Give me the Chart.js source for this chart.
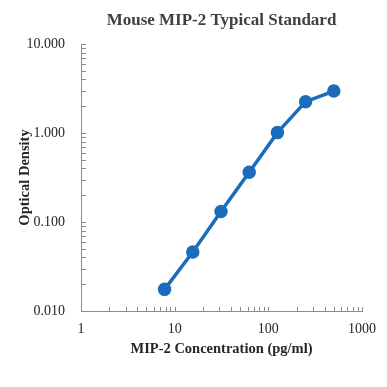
<!DOCTYPE html>
<html>
<head>
<meta charset="utf-8">
<script src="https://cdn.jsdelivr.net/npm/chart.js@4.4.1/dist/chart.umd.min.js"></script>
<style>
html,body{margin:0;padding:0;background:#fff;}
#wrap{width:387px;height:387px;position:relative;}
</style>
</head>
<body>
<div id="wrap"><canvas id="c" width="387" height="387"></canvas></div>
<script>
const concentrations = [7.8, 15.6, 31.25, 62.5, 125, 250, 500];
const odValues = [0.0175, 0.046, 0.131, 0.362, 1.01, 2.25, 2.96];
const xTickValues = [1, 10, 100, 1000];
const yTickValues = [0.01, 0.1, 1, 10];
const chartTitle = 'Mouse MIP-2 Typical Standard';
const xTitle = 'MIP-2 Concentration (pg/ml)';
const yTitle = 'Optical Density';

const serif = '"Liberation Serif", "Times New Roman", serif';
const axisColor = '#8c8c8c';
const lineColor = '#1b6dbb';

const minorTicks = {
  id: 'minorTicks',
  beforeDatasetsDraw(chart) {
    const ctx = chart.ctx;
    const xs = chart.scales.x, ys = chart.scales.y;
    const area = chart.chartArea;
    ctx.save();
    ctx.strokeStyle = axisColor;
    ctx.lineWidth = 1;
    ctx.beginPath();
    for (let d = 1; d < 1000; d *= 10) {
      for (let k = 1; k <= 10; k++) {
        const v = d * k;
        const px = Math.round(xs.getPixelForValue(v)) + 0.5;
        ctx.moveTo(px, area.bottom);
        ctx.lineTo(px, area.bottom - 4);
      }
    }
    for (let d = 0.01; d < 9; d *= 10) {
      for (let k = 1; k <= 10; k++) {
        const v = d * k;
        const py = Math.round(ys.getPixelForValue(v)) + 0.5;
        ctx.moveTo(area.left, py);
        ctx.lineTo(area.left + 5, py);
      }
    }
    ctx.stroke();
    ctx.restore();
  }
};

new Chart(document.getElementById('c'), {
  type: 'line',
  data: {
    datasets: [{
      data: concentrations.map((c, i) => ({x: c, y: odValues[i]})),
      borderColor: lineColor,
      backgroundColor: lineColor,
      borderWidth: 3.5,
      pointRadius: 5,
      pointHoverRadius: 5,
      tension: 0
    }]
  },
  options: {
    responsive: false,
    animation: false,
    devicePixelRatio: 1,
    layout: {padding: {top: 0, left: 0, right: 25, bottom: 0}},
    plugins: {
      legend: {display: false},
      tooltip: {enabled: false},
      title: {
        display: true,
        fullSize: false,
        text: chartTitle,
        color: '#404040',
        font: {family: serif, size: 17, weight: 'bold'},
        padding: {top: 10, bottom: 13.6}
      }
    },
    scales: {
      x: {
        type: 'logarithmic',
        min: 1, max: 1000,
        afterBuildTicks(s) { s.ticks = xTickValues.map(v => ({value: v})); },
        afterFit(s) { s.height = 76; },
        border: {display: true, color: axisColor, width: 1},
        grid: {display: false, drawTicks: false},
        ticks: {
          color: '#262626', padding: 10,
          font: {family: serif, size: 14},
          maxRotation: 0,
          callback: v => String(v)
        },
        title: {
          display: true, text: xTitle, color: '#262626',
          font: {family: serif, size: 14.5, weight: 'bold'},
          padding: {top: 0, bottom: 29}
        }
      },
      y: {
        type: 'logarithmic',
        min: 0.01, max: 10,
        afterBuildTicks(s) { s.ticks = yTickValues.map(v => ({value: v})); },
        afterFit(s) { s.width = 81; },
        border: {display: true, color: axisColor, width: 1},
        grid: {display: false, drawTicks: false},
        ticks: {
          color: '#262626', padding: 16,
          font: {family: serif, size: 14},
          callback: v => Number(v).toFixed(3)
        },
        title: {
          display: true, text: yTitle, color: '#262626',
          font: {family: serif, size: 14.5, weight: 'bold'},
          padding: {top: 17, bottom: 0}
        }
      }
    }
  },
  plugins: [minorTicks]
});
</script>
</body>
</html>
